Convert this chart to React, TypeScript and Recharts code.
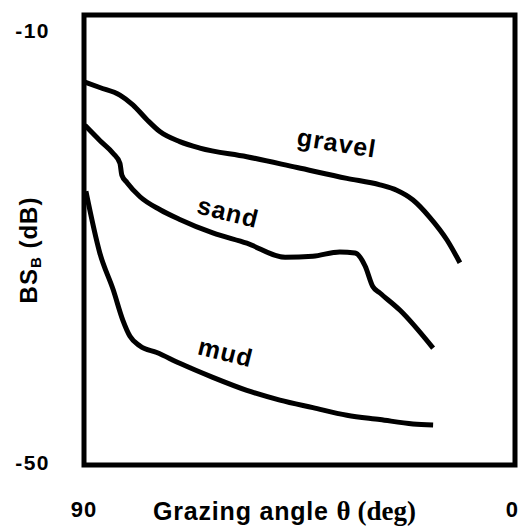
import { LineChart, Line, XAxis, YAxis, ReferenceArea, ReferenceDot } from 'recharts';

// grazing angle (deg) / backscatter (dB)
const gravelAngle = [89.8, 86.7, 82.5, 79.8, 76.8, 74.1, 70.0, 65.8, 56.0, 45.5, 35.1, 28.2, 24.7, 21.3, 17.8, 14.2, 11.5];
const gravelBs = [-14.8, -15.3, -16.0, -16.9, -18.3, -19.4, -20.3, -20.9, -21.7, -22.7, -23.7, -24.3, -24.8, -25.7, -27.3, -29.4, -31.5];

const sandAngle = [89.8, 86.7, 83.9, 82.5, 82.1, 81.0, 78.3, 74.1, 70.0, 63.1, 56.0, 48.0, 42.2, 36.6, 33.4, 31.3, 29.7, 28.2, 24.0, 17.1];
const sandBs = [-18.8, -20.2, -21.4, -22.3, -23.4, -24.1, -25.4, -26.6, -27.5, -28.75, -29.7, -31.0, -30.9, -30.5, -30.6, -31.8, -33.7, -34.3, -35.9, -39.4];

const mudAngle = [89.6, 86.7, 83.9, 81.9, 80.4, 78.3, 74.8, 70.0, 63.1, 56.0, 49.1, 42.2, 35.1, 28.2, 21.3, 17.1];
const mudBs = [-24.9, -30.6, -34.0, -36.8, -38.3, -39.2, -39.8, -40.8, -42.1, -43.3, -44.2, -44.9, -45.6, -46.0, -46.4, -46.5];

const xTicks = [90, 0];
const yTicks = [-50, -10];

// curve labels: text, angle, dB, rotation
const labels = [
  { text: 'gravel', angle: 37.2, bs: -20.4, rot: 9 },
  { text: 'sand', angle: 59.9, bs: -26.8, rot: 14 },
  { text: 'mud', angle: 60.4, bs: -39.75, rot: 14 },
];

const toPoints = (xs: number[], ys: number[]) => xs.map((a, i) => ({ angle: a, bs: ys[i] }));

const sans = 'Liberation Sans, Arial, sans-serif';
const serif = 'Liberation Serif, Times New Roman, serif';

const CurveLabel = (text: string, rot: number) => (props: any) => {
  const { cx, cy } = props;
  return (
    <text
      x={cx}
      y={cy}
      textAnchor="middle"
      dominantBaseline="central"
      fontFamily={sans}
      fontWeight="bold"
      fontSize={25}
      letterSpacing={1}
      fill="#000"
      transform={`rotate(${rot} ${cx} ${cy})`}
    >
      {text}
    </text>
  );
};

const XTick = (props: any) => {
  const { x, y, payload } = props;
  const atRight = x > 480;
  return (
    <text
      x={atRight ? x + 4 : x}
      y={y + 50}
      textAnchor={atRight ? 'end' : 'middle'}
      fill="#000"
      fontWeight="bold"
      fontFamily={sans}
      fontSize={22}
      letterSpacing={1}
    >
      {payload.value}
    </text>
  );
};

const YTick = (props: any) => {
  const { y, payload } = props;
  return (
    <text
      x={50}
      y={y}
      textAnchor="end"
      dominantBaseline="central"
      fill="#000"
      fontWeight="bold"
      fontFamily={sans}
      fontSize={21}
      letterSpacing={1.5}
    >
      {payload.value}
    </text>
  );
};

export default function App() {
  return (
    <div style={{ position: 'absolute', left: 0, top: 0, background: '#fff' }}>
      <LineChart width={520} height={529} margin={{ top: 15, right: 5, bottom: 0, left: 0 }}>
        <XAxis
          type="number"
          dataKey="angle"
          domain={[0, 90]}
          reversed
          ticks={xTicks}
          axisLine={false}
          tickLine={false}
          tickSize={0}
          tick={<XTick />}
          height={64}
          label={{
            content: (p: any) => {
              const { x, y, width } = p.viewBox;
              return (
                <text x={x + width / 2 - 15} y={y + 55} textAnchor="middle" fill="#000" fontWeight="bold">
                  <tspan fontFamily={sans} fontSize={25} letterSpacing={0.8}>Grazing angle </tspan>
                  <tspan fontFamily={serif} fontSize={27}>θ (deg)</tspan>
                </text>
              );
            },
          }}
        />
        <YAxis
          type="number"
          dataKey="bs"
          domain={[-50.2, -8.6]}
          ticks={yTicks}
          width={84}
          axisLine={false}
          tickLine={false}
          tickSize={0}
          tick={<YTick />}
          label={{
            content: (p: any) => {
              const { y, height } = p.viewBox;
              const cx = 28;
              const cy = y + height / 2 + 10;
              return (
                <text
                  x={cx}
                  y={cy}
                  textAnchor="middle"
                  dominantBaseline="central"
                  fill="#000"
                  fontWeight="bold"
                  fontFamily={sans}
                  fontSize={24}
                  letterSpacing={1}
                  transform={`rotate(-90 ${cx} ${cy})`}
                >
                  BS
                  <tspan fontSize={15} dy={7}>B</tspan>
                  <tspan dy={-7}> (dB)</tspan>
                </text>
              );
            },
          }}
        />
        <ReferenceArea
          x1={0}
          x2={90}
          y1={-50.2}
          y2={-8.6}
          stroke="#000"
          strokeWidth={5}
          fill="none"
          fillOpacity={0}
          ifOverflow="visible"
        />
        <Line data={toPoints(gravelAngle, gravelBs)} dataKey="bs" type="monotone" stroke="#000" strokeWidth={5} dot={false} isAnimationActive={false} />
        <Line data={toPoints(sandAngle, sandBs)} dataKey="bs" type="monotone" stroke="#000" strokeWidth={5} dot={false} isAnimationActive={false} />
        <Line data={toPoints(mudAngle, mudBs)} dataKey="bs" type="monotone" stroke="#000" strokeWidth={5} dot={false} isAnimationActive={false} />
        {labels.map((l) => (
          <ReferenceDot key={l.text} x={l.angle} y={l.bs} r={0} shape={CurveLabel(l.text, l.rot)} ifOverflow="visible" />
        ))}
      </LineChart>
    </div>
  );
}
